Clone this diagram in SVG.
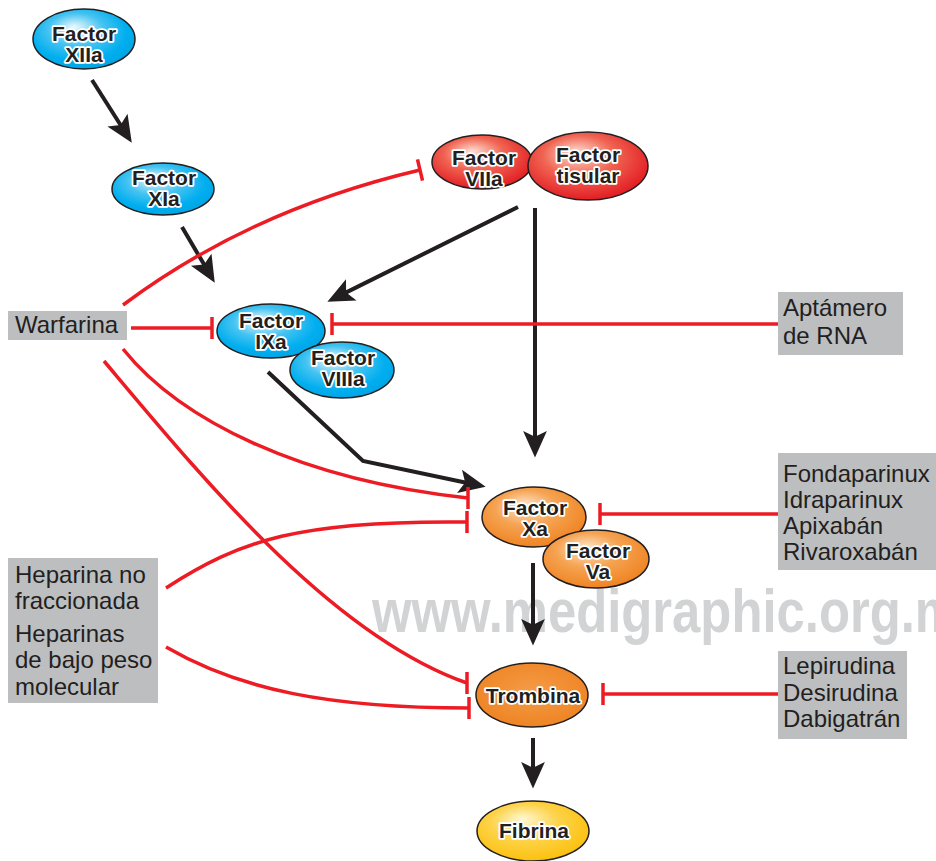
<svg xmlns="http://www.w3.org/2000/svg" width="936" height="861" viewBox="0 0 936 861">
<style>
.lbl{font-family:"Liberation Sans",Arial,sans-serif;font-size:24px;fill:#231f20}
.nt{font-family:"Liberation Sans",Arial,sans-serif;font-size:21px;font-weight:bold;fill:#231f20;stroke:#ffffff;stroke-width:3.5px;paint-order:stroke;stroke-linejoin:round;text-anchor:middle}
.box{fill:#bcbec0}
.node{stroke:#231f20;stroke-width:1.5}
.act{fill:none;stroke:#231f20;stroke-width:4;marker-end:url(#arrow)}
.inh{fill:none;stroke:#ed1c24;stroke-width:3.5}
.wm{font-family:"Liberation Sans",Arial,sans-serif;font-weight:bold;font-size:62px;fill:#d1d3d4}
</style>
<defs>
<radialGradient id="gBlue" cx="0.45" cy="0.4" r="0.6" fx="0.4" fy="0.3">
<stop offset="0" stop-color="#effafe"/>
<stop offset="0.45" stop-color="#45c3f1"/>
<stop offset="0.8" stop-color="#00aeef"/>
<stop offset="1" stop-color="#00a6e4"/>
</radialGradient>
<radialGradient id="gRed" cx="0.45" cy="0.4" r="0.6" fx="0.4" fy="0.3">
<stop offset="0" stop-color="#fde0d4"/>
<stop offset="0.5" stop-color="#f06452"/>
<stop offset="1" stop-color="#e31e24"/>
</radialGradient>
<radialGradient id="gOrange" cx="0.45" cy="0.4" r="0.6" fx="0.4" fy="0.3">
<stop offset="0" stop-color="#fee6cc"/>
<stop offset="0.5" stop-color="#f5a352"/>
<stop offset="1" stop-color="#ef8422"/>
</radialGradient>
<radialGradient id="gOrange2" cx="0.5" cy="0.45" r="0.6">
<stop offset="0" stop-color="#f49c48"/>
<stop offset="1" stop-color="#ee8221"/>
</radialGradient>
<radialGradient id="gYellow" cx="0.45" cy="0.4" r="0.6" fx="0.4" fy="0.3">
<stop offset="0" stop-color="#fff8d6"/>
<stop offset="0.5" stop-color="#fdd34a"/>
<stop offset="1" stop-color="#fcc10e"/>
</radialGradient>
<marker id="arrow" markerUnits="userSpaceOnUse" markerWidth="40" markerHeight="40" viewBox="-32 -16 42 32" refX="-8" refY="0" orient="auto" overflow="visible">
<path d="M0,0 L-28,-12.5 L-22,0 L-28,12.5 Z" fill="#231f20"/>
</marker>
<marker id="tbar" markerUnits="userSpaceOnUse" markerWidth="10" markerHeight="30" viewBox="-5 -15 10 30" refX="0" refY="0" orient="auto" overflow="visible">
<line x1="0" y1="-11" x2="0" y2="11" stroke="#ed1c24" stroke-width="3.5"/>
</marker>
<marker id="tbarV" markerUnits="userSpaceOnUse" markerWidth="10" markerHeight="30" viewBox="-5 -15 10 30" refX="0" refY="0" orient="0" overflow="visible">
<line x1="0" y1="-11" x2="0" y2="11" stroke="#ed1c24" stroke-width="3.5"/>
</marker>
</defs>
<rect width="936" height="861" fill="#ffffff"/>
<text class="wm" x="372" y="632" textLength="588" lengthAdjust="spacingAndGlyphs">www.medigraphic.org.m</text>

<g id="connectors">
<path class="act" d="M92,80 L127.7,136.2"/>
<path class="act" d="M182,227 L210.9,276.1"/>
<path class="act" d="M518,207 L334.2,298.4"/>
<path class="act" d="M535,208 L535,450"/>
<path class="act" d="M268,372 L363,461 L478.2,485.3"/>
<path class="act" d="M533,563 L533,638"/>
<path class="act" d="M533,738 L533,781"/>
<path class="inh" marker-end="url(#tbar)" d="M123,305 Q250,210 420,170"/>
<path class="inh" marker-end="url(#tbarV)" d="M131,328 H212"/>
<path class="inh" marker-end="url(#tbarV)" d="M778,324 H332"/>
<path class="inh" marker-end="url(#tbarV)" d="M123,349 C180,420 300,480 468,498"/>
<path class="inh" marker-end="url(#tbarV)" d="M104,361 C200,475 330,635 467,683"/>
<path class="inh" marker-end="url(#tbarV)" d="M166,588 C240,540 300,520 467,522"/>
<path class="inh" marker-end="url(#tbarV)" d="M166,647 C240,690 330,708 469,708"/>
<path class="inh" marker-end="url(#tbarV)" d="M778,514 H600"/>
<path class="inh" marker-end="url(#tbarV)" d="M778,694 H603"/>
</g>

<g id="factor-xiia">
<ellipse class="node" cx="84" cy="39" rx="51" ry="30" fill="url(#gBlue)"/>
<text class="nt" x="84" y="41">Factor</text>
<text class="nt" x="84" y="62">XIIa</text>
</g>
<g id="factor-xia">
<ellipse class="node" cx="163" cy="189" rx="51" ry="26" fill="url(#gBlue)"/>
<text class="nt" x="164" y="185">Factor</text>
<text class="nt" x="164" y="206">XIa</text>
</g>
<g id="factor-viia">
<ellipse class="node" cx="482" cy="162" rx="50" ry="27" fill="url(#gRed)"/>
<text class="nt" x="484" y="165">Factor</text>
<text class="nt" x="484" y="186">VIIa</text>
</g>
<g id="factor-tisular">
<ellipse class="node" cx="588" cy="166" rx="60" ry="34" fill="url(#gRed)"/>
<text class="nt" x="588" y="162">Factor</text>
<text class="nt" x="588" y="183">tisular</text>
</g>
<g id="factor-ixa">
<ellipse class="node" cx="271" cy="331" rx="54" ry="27" fill="url(#gBlue)"/>
<text class="nt" x="271" y="328">Factor</text>
<text class="nt" x="271" y="349">IXa</text>
</g>
<g id="factor-viiia">
<ellipse class="node" cx="342" cy="370" rx="52" ry="28" fill="url(#gBlue)"/>
<text class="nt" x="343" y="365">Factor</text>
<text class="nt" x="343" y="386">VIIIa</text>
</g>
<g id="factor-xa">
<ellipse class="node" cx="534" cy="517" rx="52" ry="30" fill="url(#gOrange)"/>
<text class="nt" x="535" y="515">Factor</text>
<text class="nt" x="535" y="536">Xa</text>
</g>
<g id="factor-va">
<ellipse class="node" cx="596" cy="559" rx="53" ry="29" fill="url(#gOrange)"/>
<text class="nt" x="598" y="558">Factor</text>
<text class="nt" x="598" y="579">Va</text>
</g>
<g id="trombina">
<ellipse class="node" cx="532" cy="695" rx="56" ry="32" fill="url(#gOrange2)"/>
<text class="nt" x="533" y="703">Trombina</text>
</g>
<g id="fibrina">
<ellipse class="node" cx="533" cy="831" rx="56" ry="30" fill="url(#gYellow)"/>
<text class="nt" x="534" y="838">Fibrina</text>
</g>

<g id="warfarina">
<rect class="box" x="8" y="311" width="119" height="29"/>
<text class="lbl" x="15" y="333">Warfarina</text>
</g>
<g id="aptamero">
<rect class="box" x="778" y="292" width="125" height="63"/>
<text class="lbl" x="783" y="316">Aptámero</text>
<text class="lbl" x="783" y="344">de RNA</text>
</g>
<g id="xa-inhibitors">
<rect class="box" x="778" y="453" width="158" height="117"/>
<text class="lbl" x="783" y="482">Fondaparinux</text>
<text class="lbl" x="783" y="508">Idraparinux</text>
<text class="lbl" x="783" y="534">Apixabán</text>
<text class="lbl" x="783" y="560">Rivaroxabán</text>
</g>
<g id="thrombin-inhibitors">
<rect class="box" x="778" y="651" width="129" height="88"/>
<text class="lbl" x="783" y="674">Lepirudina</text>
<text class="lbl" x="783" y="701">Desirudina</text>
<text class="lbl" x="783" y="727">Dabigatrán</text>
</g>
<g id="heparinas">
<rect class="box" x="8" y="558" width="150" height="145"/>
<text class="lbl" x="15" y="583">Heparina no</text>
<text class="lbl" x="15" y="609">fraccionada</text>
<text class="lbl" x="15" y="642">Heparinas</text>
<text class="lbl" x="15" y="668">de bajo peso</text>
<text class="lbl" x="15" y="695">molecular</text>
</g>
</svg>
